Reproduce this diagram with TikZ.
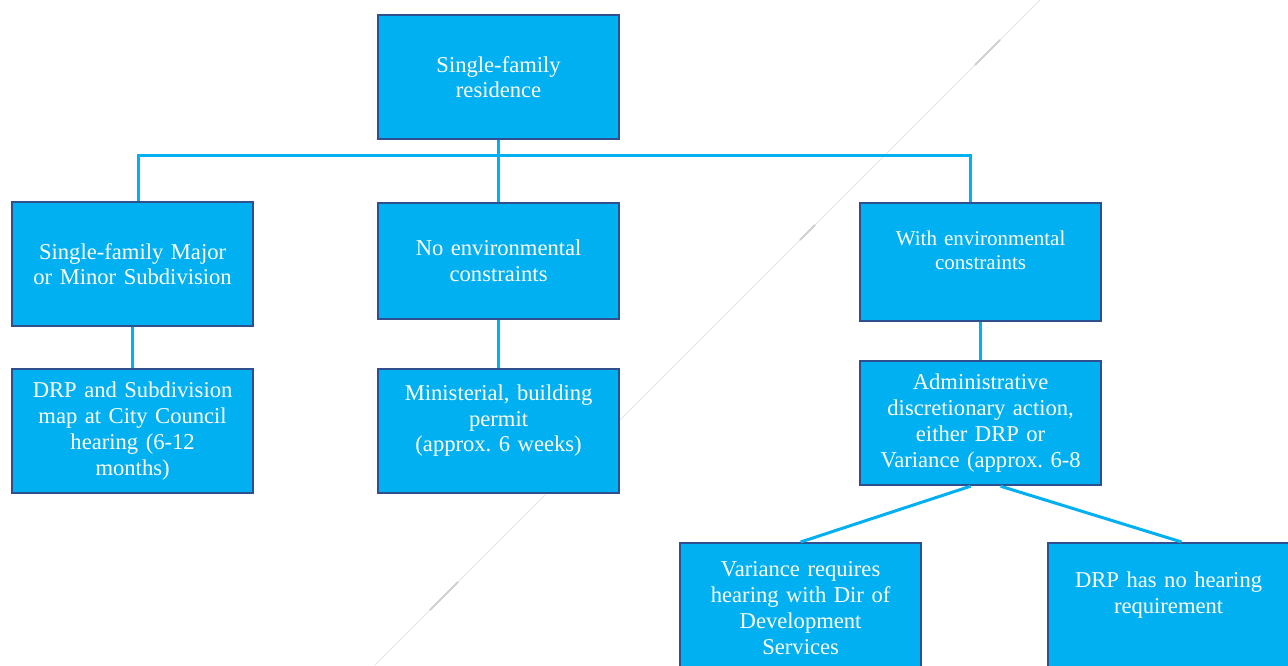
\documentclass[tikz,border=0pt]{standalone}
\usepackage{fontspec}
\setmainfont{Liberation Serif}
\usetikzlibrary{calc}
\definecolor{boxfill}{HTML}{00B0F0}
\definecolor{boxedge}{HTML}{2F4F8F}
\definecolor{connc}{HTML}{00B0F0}
\definecolor{faint}{HTML}{E4E4E4}
\definecolor{faintd}{HTML}{D0D0D0}
\tikzset{
  box/.style={draw=boxedge, line width=2.2pt, fill=boxfill, text=white,
    minimum width=241pt, minimum height=124pt, anchor=north west,
    align=center, inner sep=2pt, text width=237pt,
    font=\fontsize{22.6}{25.8}\selectfont},
  conn/.style={draw=connc, line width=3pt},
}
\frenchspacing
\begin{document}
\begin{tikzpicture}[x=1pt,y=-1pt]
\useasboundingbox (0,0) rectangle (1288,665);
\clip (0,0) rectangle (1288,665);
% faint background stroke
\draw[faint, line width=0.8pt] (375,665) -- (1040,0);
\draw[faintd, line width=2pt] (430,610) -- (458,582);
\draw[faintd, line width=2pt] (800,240) -- (815,225);
\draw[faintd, line width=2pt] (975,65) -- (1000,40);
% boxes
\node[box] (top) at (377,14) {Single-family\\residence};
\node[box] (L1) at (11,201) {Single-family Major\\or Minor Subdivision};
\node[box, minimum height=116pt] (M1) at (377,202) {No environmental\\constraints};
\node[box, minimum height=118pt, font=\fontsize{21}{24}\selectfont] (R1) at (859,202) {With environmental\\constraints\\ \mbox{}};
\node[box] (L2) at (11,368) {DRP and Subdivision\\map at City Council\\hearing (6-12\\months)};
\node[box] (M2) at (377,368) {Ministerial, building\\permit\\(approx. 6 weeks)\\ \mbox{}};
\node[box] (R2) at (859,360) {Administrative\\discretionary action,\\either DRP or\\Variance (approx. 6-8};
\node[box, minimum height=130pt] (B1) at (679,542) {Variance requires\\hearing with Dir of\\Development\\Services};
\node[box, minimum height=150pt] (B2) at (1047,542) {DRP has no hearing\\requirement\\ \mbox{}\\ \mbox{}};
% connectors
\coordinate (busL) at (138,155);
\coordinate (busR) at (970,155);
\draw[conn] (busL |- L1.north) -- (busL) -- (busR) -- (busR |- R1.north);
\draw[conn] (top.south) -- (M1.north);
\draw[conn] (L1.south) -- (L2.north);
\draw[conn] (M1.south) -- (M2.north);
\draw[conn] (R1.south) -- (R2.north);
\draw[conn] ($(R2.south)+(-10,0)$) -- (B1.north);
\draw[conn] ($(R2.south)+(20,0)$) -- ($(B2.north)+(13,0)$);
\end{tikzpicture}
\end{document}
